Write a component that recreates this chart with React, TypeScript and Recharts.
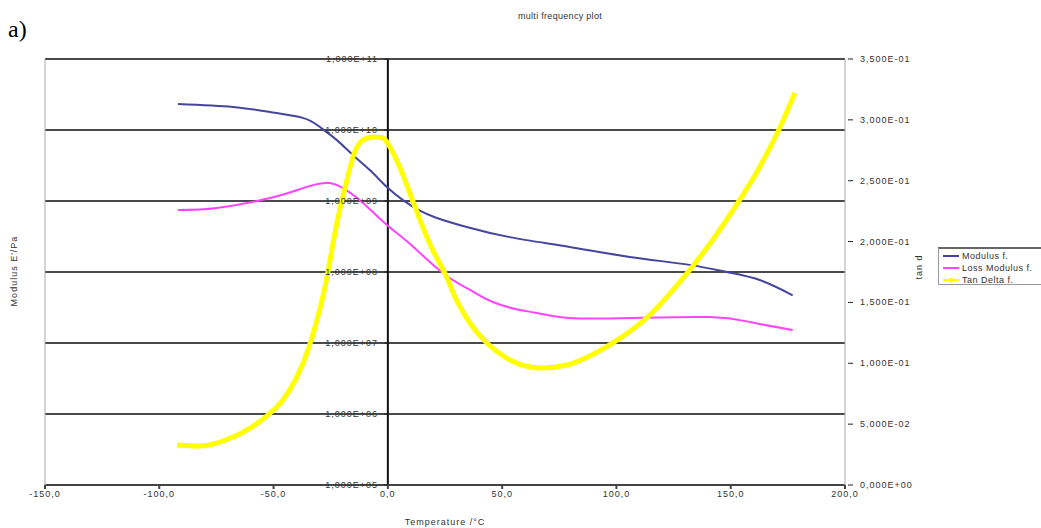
import React from 'react';
import {
  LineChart,
  Line,
  XAxis,
  YAxis,
  CartesianGrid,
  ReferenceLine,
  Legend,
} from 'recharts';

// temperatures (°C) and values
const modulusTemps = [-91.8, -67.8, -51.6, -37.2, -29.7, -22.3, -15.3, -7.9, -0.4, 6.6, 14, 21.4, 34.5, 53.3, 79.6, 105.8, 132, 148.2, 162.7, 177.1];
const modulusValues = [2.32e10, 2.11e10, 1.79e10, 1.48e10, 1.1e10, 7.2e9, 4.44e9, 2.73e9, 1.57e9, 1.03e9, 7.3e8, 5.77e8, 4.3e8, 3.1e8, 2.25e8, 1.63e8, 1.26e8, 1.0e8, 7.7e7, 4.7e7];

const lossTemps = [-91.8, -74.8, -51.6, -37.2, -27.5, -19.7, -10.9, -0.4, 9.6, 24, 35.9, 45.9, 57.7, 65.2, 79.6, 105.8, 140.8, 158.3, 177.1];
const lossValues = [7.46e8, 7.96e8, 1.1e9, 1.52e9, 1.8e9, 1.52e9, 9.4e8, 4.6e8, 2.5e8, 9.7e7, 5.6e7, 3.78e7, 2.92e7, 2.65e7, 2.25e7, 2.25e7, 2.32e7, 1.98e7, 1.52e7];

const tanTemps = [
  -92.3, -82.2, -67.8, -60.3, -52.5, -45.9, -39.8, -35.4, -31, -27.5, -22.3, -17.9, -15.3, -10.9, -6.6, -2.2, 0.9,
  5.2, 9.6, 14, 19.2, 24.9, 30.2, 35.9, 43.3, 52, 62.1, 67.8, 78.3, 98.4, 114.6, 132, 142.1, 153.9, 162.7, 171.4,
  174.9, 178,
];
const tanValues = [
  0.0329, 0.032, 0.0394, 0.0468, 0.0575, 0.0699, 0.0888, 0.1085, 0.1356, 0.1627, 0.2153, 0.2506, 0.2695, 0.2835,
  0.2859, 0.2851, 0.2777, 0.2613, 0.2399, 0.218, 0.1947, 0.1742, 0.1512, 0.1331, 0.1167, 0.1043, 0.097, 0.0961,
  0.0986, 0.1167, 0.1397, 0.1766, 0.2013, 0.2342, 0.2613, 0.2933, 0.3081, 0.3221,
];

const xTicks = [-150, -100, -50, 0, 50, 100, 150, 200];
const modulusTicks = [1e5, 1e6, 1e7, 1e8, 1e9, 1e10, 1e11];
const tanTicks = [0, 0.05, 0.1, 0.15, 0.2, 0.25, 0.3, 0.35];

const modulusData = modulusTemps.map((t, i) => ({ t, v: modulusValues[i] }));
const lossData = lossTemps.map((t, i) => ({ t, v: lossValues[i] }));
const tanData = tanTemps.map((t, i) => ({ t, v: tanValues[i] }));

const FONT = '"Liberation Sans", Arial, sans-serif';
const BLUE = '#45459e';
const PINK = '#ff44ff';
const YELLOW = '#ffff00';
const ZERO_X = 388;

// Excel style: 1,000E+10
const sci = (v: number) => {
  if (v === 0) return '0,000E+00';
  const exp = Math.floor(Math.log10(v) + 1e-9);
  const mant = v / Math.pow(10, exp);
  const sign = exp < 0 ? '-' : '+';
  return `${mant.toFixed(3).replace('.', ',')}E${sign}${String(Math.abs(exp)).padStart(2, '0')}`;
};

const tickText = { fontSize: 9, fill: '#333', fontFamily: FONT, letterSpacing: 1 };

const ModulusTick = (props: any) => {
  const { y, payload } = props;
  return (
    <g>
      <line x1={ZERO_X - 4} x2={ZERO_X} y1={y} y2={y} stroke="#222" />
      <text x={ZERO_X - 10} y={y} dy={3} textAnchor="end" {...tickText}>
        {sci(payload.value)}
      </text>
    </g>
  );
};

const TanTick = (props: any) => {
  const { x, y, payload } = props;
  return (
    <g>
      <line x1={x - 5} x2={x} y1={y} y2={y} stroke="#222" />
      <text x={x + 7} y={y} dy={3} textAnchor="start" {...tickText}>
        {sci(payload.value)}
      </text>
    </g>
  );
};

const LegendBox = () => {
  const items = [
    { name: 'Modulus f.', color: BLUE, star: false },
    { name: 'Loss Modulus f.', color: PINK, star: false },
    { name: 'Tan Delta f.', color: YELLOW, star: true },
  ];
  return (
    <div
      style={{
        width: 110,
        height: 38,
        border: '1px solid #999',
        borderTop: '2px solid #666',
        background: '#fff',
        fontFamily: FONT,
        fontSize: 9,
        letterSpacing: 0.5,
        color: '#333',
        padding: '1px 0 0 4px',
        boxSizing: 'border-box',
      }}
    >
      {items.map((it) => (
        <div key={it.name} style={{ display: 'flex', alignItems: 'center', height: 12 }}>
          <svg width={16} height={8} style={{ marginRight: 3 }}>
            <line x1={0} x2={16} y1={4} y2={4} stroke={it.color} strokeWidth={2} />
            {it.star && <circle cx={8} cy={4} r={2.5} fill={it.color} />}
          </svg>
          {it.name}
        </div>
      ))}
    </div>
  );
};

export default function App() {
  return (
    <div style={{ position: 'absolute', left: 0, top: 0, width: 1041, height: 528, background: '#fff' }}>
      <div style={{ position: 'absolute', left: 8, top: 16, fontFamily: '"Liberation Serif", serif', fontSize: 24 }}>
        a)
      </div>
      <div
        style={{
          position: 'absolute',
          left: 0,
          width: 1120,
          top: 11,
          textAlign: 'center',
          fontFamily: FONT,
          fontSize: 9,
          letterSpacing: 0.3,
          color: '#333',
        }}
      >
        multi frequency plot
      </div>
      <LineChart width={1041} height={528} margin={{ top: 59, right: 0, left: 0, bottom: 0 }}>
        <CartesianGrid
          yAxisId="mod"
          vertical={false}
          horizontalValues={modulusTicks}
          stroke="#4a4a4a"
          strokeWidth={2}
        />
        <XAxis
          dataKey="t"
          type="number"
          domain={[-150, 200]}
          ticks={xTicks}
          allowDuplicatedCategory={false}
          height={43}
          stroke="#444"
          strokeWidth={2}
          tickSize={4}
          tick={tickText}
          tickFormatter={(v: number) => v.toFixed(1).replace('.', ',')}
          label={{
            value: 'Temperature /°C',
            position: 'insideBottom',
            offset: 3,
            style: { fontSize: 9, fill: '#333', fontFamily: FONT, letterSpacing: 1 },
          }}
        />
        <YAxis
          yAxisId="mod"
          scale="log"
          domain={[1e5, 1e11]}
          ticks={modulusTicks}
          allowDataOverflow
          width={45}
          stroke="#aaa"
          tickLine={false}
          tick={<ModulusTick />}
          label={{
            content: () => (
              <text
                x={15}
                y={271}
                transform="rotate(-90, 15, 271)"
                textAnchor="middle"
                dominantBaseline="middle"
                style={{ fontSize: 9, fill: '#333', fontFamily: FONT, letterSpacing: 1 }}
              >
                Modulus E'/Pa
              </text>
            ),
          }}
        />
        <YAxis
          yAxisId="tan"
          orientation="right"
          domain={[0, 0.35]}
          ticks={tanTicks}
          width={196}
          stroke="#aaa"
          tickLine={false}
          tick={<TanTick />}
          label={{
            content: () => (
              <text
                x={920}
                y={267}
                transform="rotate(-90, 920, 267)"
                textAnchor="middle"
                dominantBaseline="middle"
                style={{ fontSize: 9, fill: '#333', fontFamily: FONT, letterSpacing: 1 }}
              >
                tan d
              </text>
            ),
          }}
        />
        <ReferenceLine yAxisId="mod" x={0} stroke="#111" strokeWidth={2} />
        <Line
          yAxisId="mod"
          data={modulusData}
          dataKey="v"
          name="Modulus f."
          type="natural"
          stroke={BLUE}
          strokeWidth={2}
          dot={false}
          isAnimationActive={false}
        />
        <Line
          yAxisId="mod"
          data={lossData}
          dataKey="v"
          name="Loss Modulus f."
          type="natural"
          stroke={PINK}
          strokeWidth={2}
          dot={false}
          isAnimationActive={false}
        />
        <Line
          yAxisId="tan"
          data={tanData}
          dataKey="v"
          name="Tan Delta f."
          type="monotone"
          stroke={YELLOW}
          strokeWidth={5}
          dot={false}
          isAnimationActive={false}
        />
        <Legend
          layout="vertical"
          align="center"
          verticalAlign="middle"
          content={<LegendBox />}
          wrapperStyle={{ position: 'absolute', left: 938, top: 247, width: 110, height: 38 }}
        />
      </LineChart>
    </div>
  );
}
